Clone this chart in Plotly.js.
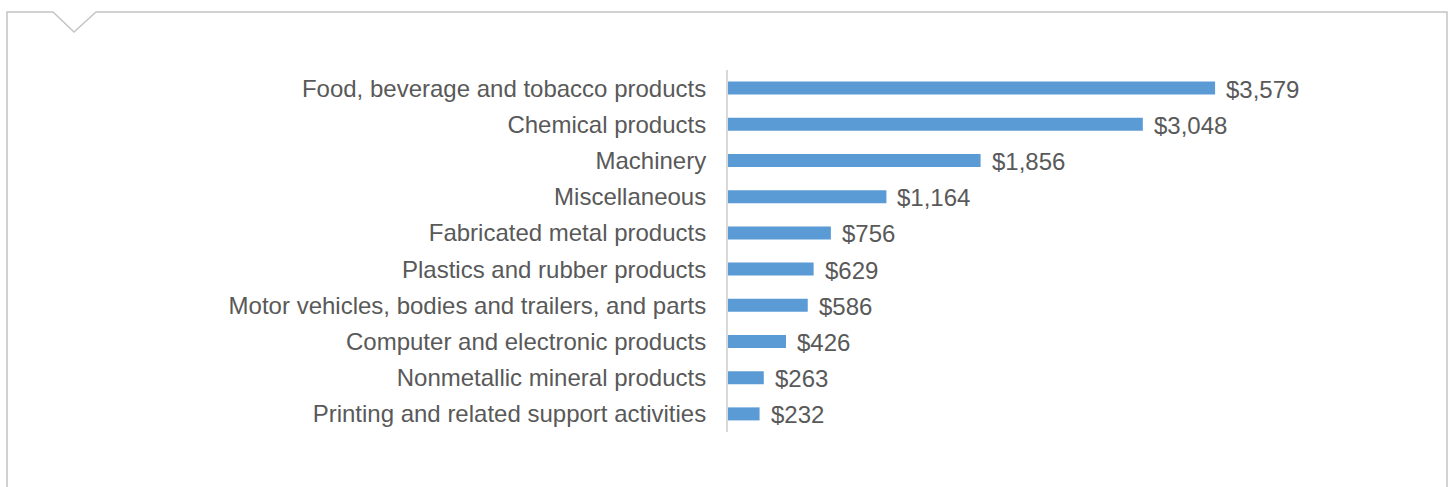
<!DOCTYPE html>
<html>
<head>
<meta charset="utf-8">
<script src="https://cdn.plot.ly/plotly-3.0.1.min.js"></script>
<style>html,body{margin:0;padding:0;background:#fff;}#chart{width:1450px;height:487px;}</style>
</head>
<body>
<div id="chart"></div>
<script>
const categories = [
  "Food, beverage and tobacco products",
  "Chemical products",
  "Machinery",
  "Miscellaneous",
  "Fabricated metal products",
  "Plastics and rubber products",
  "Motor vehicles, bodies and trailers, and parts",
  "Computer and electronic products",
  "Nonmetallic mineral products",
  "Printing and related support activities"
];
const values = [3579, 3048, 1856, 1164, 756, 629, 586, 426, 263, 232];
const valueLabels = ["$3,579", "$3,048", "$1,856", "$1,164", "$756", "$629", "$586", "$426", "$263", "$232"];

const W = 1450, H = 487;
const M = {l: 728, r: 10, t: 70, b: 55};
const pw = W - M.l - M.r, ph = H - M.t - M.b;
const px = x => (x - M.l) / pw;
const py = y => (H - M.b - y) / ph;

const framePts = [[7, 495], [7, 12], [53, 12], [74, 32], [96, 12], [1447, 12], [1447, 495]];
const framePath = framePts.map((p, i) => (i ? "L" : "M") + px(p[0]).toFixed(5) + "," + py(p[1]).toFixed(5)).join(" ");

const font = "Liberation Sans, Arial, sans-serif";
const gray = "#595959";

const trace = {
  type: "bar",
  orientation: "h",
  y: categories,
  x: values,
  marker: {color: "#5b9bd5"},
  hoverinfo: "none"
};

const annotations = categories.map((c, i) => ({
  x: values[i], y: c, xref: "x", yref: "y",
  text: valueLabels[i], showarrow: false,
  xanchor: "left", xshift: 9, yshift: -1,
  font: {family: font, size: 24, color: gray}
}));

const layout = {
  width: W, height: H,
  margin: M,
  paper_bgcolor: "#fff", plot_bgcolor: "#fff",
  showlegend: false,
  bargap: 0.64,
  font: {family: font, color: gray},
  xaxis: {range: [0, pw / 0.1361], visible: false, fixedrange: true},
  yaxis: {
    autorange: "reversed", automargin: false,
    showline: true, linecolor: "#d9d9d9", linewidth: 2,
    showgrid: false, zeroline: false, ticks: "",
    ticklabelstandoff: 15,
    tickfont: {family: font, size: 24, color: gray}
  },
  annotations: annotations,
  shapes: [{
    type: "path", xref: "paper", yref: "paper",
    path: framePath,
    line: {color: "#c4c4c4", width: 1.5}
  }]
};

Plotly.newPlot("chart", [trace], layout, {displayModeBar: false, staticPlot: true});
</script>
</body>
</html>
